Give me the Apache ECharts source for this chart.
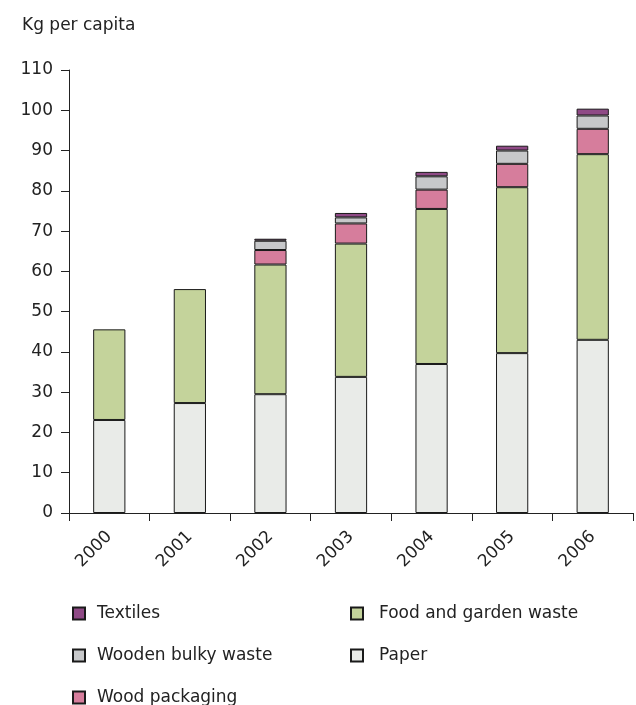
<!DOCTYPE html>
<html><head><meta charset="utf-8">
<script src="https://cdn.jsdelivr.net/npm/echarts@6/dist/echarts.min.js"></script>
<style>html,body{margin:0;padding:0;background:#fff}#c{width:636px;height:705px}</style>
</head><body><div id="c"></div>
<script>
var years = ['2000','2001','2002','2003','2004','2005','2006'];
var paper = [23.1, 27.3, 29.5, 33.8, 37.0, 39.7, 43.0];
var food = [22.5, 28.3, 32.2, 33.1, 38.5, 41.2, 46.1];
var woodPackaging = [0, 0, 3.6, 5.0, 4.8, 5.8, 6.3];
var woodenBulky = [0, 0, 2.3, 1.5, 3.3, 3.3, 3.3];
var textiles = [0, 0, 0.5, 1.1, 1.1, 1.2, 1.7];
var yTicks = [0,10,20,30,40,50,60,70,80,90,100,110];

var font = 'DejaVu Sans';
function s(name, data, color){
  return {name:name, type:'bar', stack:'a', barWidth:'40%', data:data.map(function(v){return v===0?null:v;}),
    itemStyle:{color:color, borderColor:'#1a1a1a', borderWidth:1}};
}
function lg(name, left, top, pad){
  return {data:[name], orient:'horizontal', left:left, top:top,
    itemWidth:12, itemHeight:12, icon:'rect',
    textStyle:{fontSize:17, color:'#222', fontFamily:font, padding:[0,0,0,pad]}};
}
var chart = echarts.init(document.getElementById('c'));
chart.setOption({
  animation:false,
  textStyle:{fontFamily:font},
  title:{text:'Kg per capita', left:17, top:12, textStyle:{fontFamily:font, fontSize:17, fontWeight:'normal', color:'#222'}},
  grid:{left:69, right:3, top:70, bottom:192},
  xAxis:{type:'category', data:years,
    axisLine:{lineStyle:{color:'#222', width:1}},
    axisTick:{show:true, length:8, lineStyle:{color:'#222'}},
    axisLabel:{rotate:45, fontSize:17, color:'#222', fontFamily:font, margin:21}},
  yAxis:{type:'value', min:0, max:110, interval:10,
    axisLine:{show:true, lineStyle:{color:'#222', width:1}},
    axisTick:{show:true, length:8, lineStyle:{color:'#222'}},
    splitLine:{show:false},
    axisLabel:{fontSize:17, color:'#222', fontFamily:font, margin:16,
      formatter:function(v){return yTicks.indexOf(v)>=0?String(v):'';}}},
  legend:[
    lg('Textiles', 67, 600, 7),
    lg('Wooden bulky waste', 67, 642, 7),
    lg('Wood packaging', 67, 684, 7),
    lg('Food and garden waste', 345, 600, 11),
    lg('Paper', 345, 642, 11)
  ],
  series:[
    s('Paper', paper, '#e9ebe8'),
    s('Food and garden waste', food, '#c4d39b'),
    s('Wood packaging', woodPackaging, '#d67d9c'),
    s('Wooden bulky waste', woodenBulky, '#c7c8ca'),
    s('Textiles', textiles, '#8f4a86')
  ]
});
</script></body></html>
